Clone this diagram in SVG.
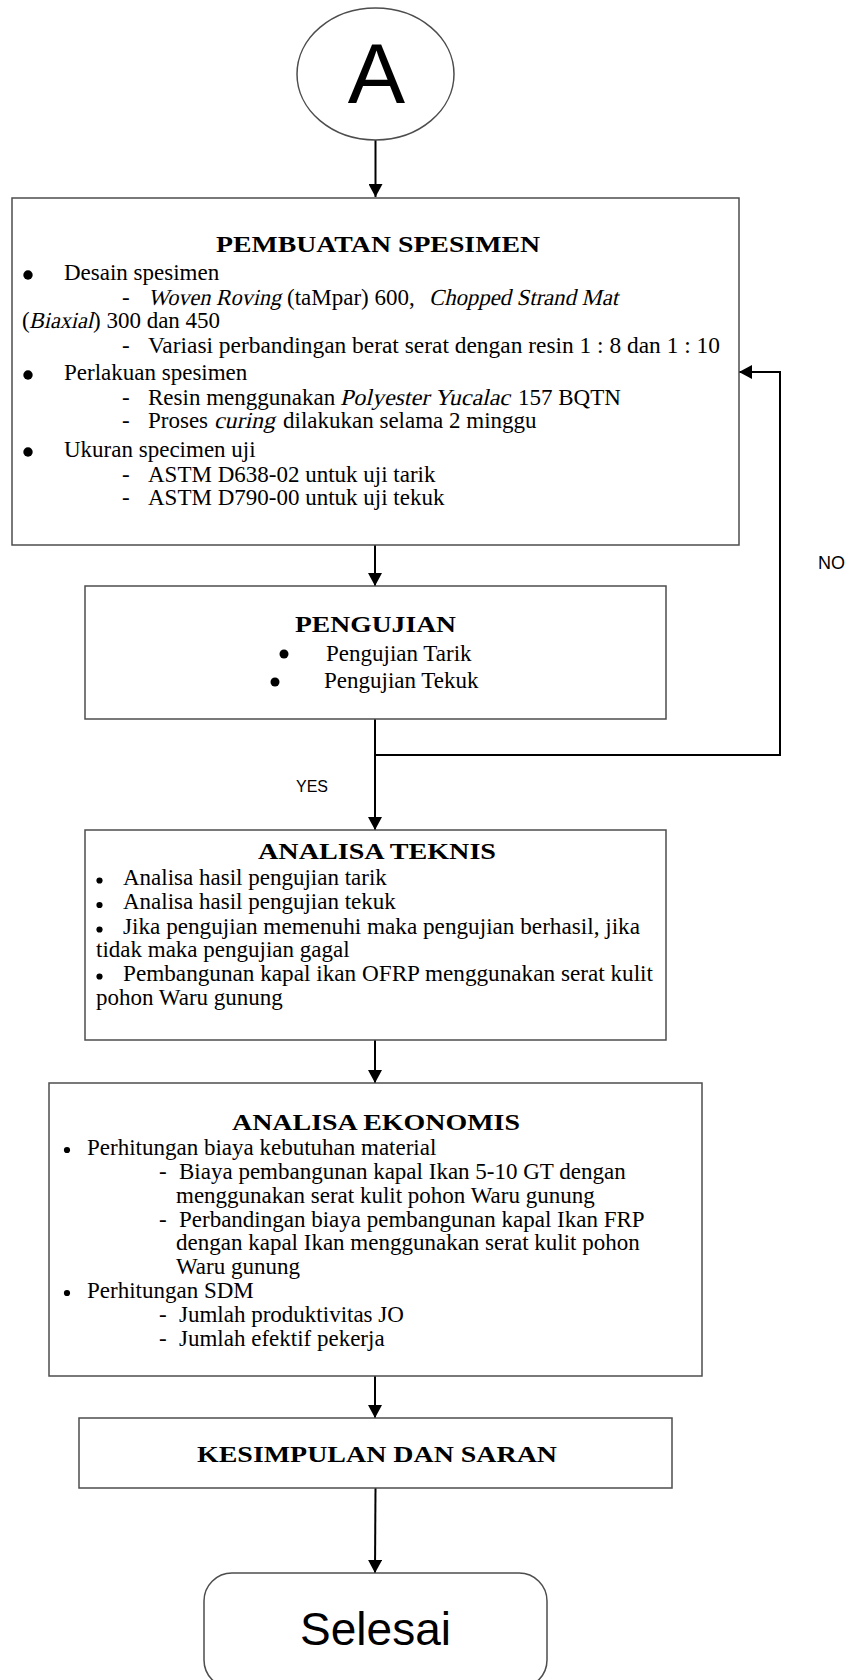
<svg xmlns="http://www.w3.org/2000/svg" width="850" height="1680" viewBox="0 0 850 1680">
<style>
.box{fill:#fff;stroke:#4d4d4d;stroke-width:1.5}
.conn{fill:none;stroke:#000;stroke-width:2}
.t{font-family:"Liberation Serif","Times New Roman",serif;font-size:23px;fill:#000}
.h{font-family:"Liberation Serif","Times New Roman",serif;font-size:24px;font-weight:bold;fill:#000}
.s{font-family:"Liberation Sans",Arial,sans-serif;fill:#000}
.dot{fill:#000}
</style>
<defs>
<marker id="ah" markerUnits="userSpaceOnUse" markerWidth="14" markerHeight="14" refX="13" refY="7" orient="auto">
<path d="M0,0 L13,7 L0,14 z" fill="#000"/>
</marker>
</defs>
<rect x="0" y="0" width="850" height="1680" fill="#fff"/>

<g id="connectors">
<line class="conn" x1="375.5" y1="140" x2="375.5" y2="197" marker-end="url(#ah)"/>
<line class="conn" x1="375" y1="545" x2="375" y2="586" marker-end="url(#ah)"/>
<line class="conn" x1="375" y1="719" x2="375" y2="830" marker-end="url(#ah)"/>
<polyline class="conn" points="375,755 780,755 780,372 739,372" marker-end="url(#ah)"/>
<line class="conn" x1="375" y1="1040" x2="375" y2="1083" marker-end="url(#ah)"/>
<line class="conn" x1="375" y1="1376" x2="375" y2="1418" marker-end="url(#ah)"/>
<line class="conn" x1="375.5" y1="1488" x2="375" y2="1573" marker-end="url(#ah)"/>
<text class="s" x="818" y="569" font-size="18">NO</text>
<text class="s" x="296" y="792" font-size="16">YES</text>
</g>

<g id="start-A">
<ellipse class="box" cx="375.5" cy="74" rx="78.5" ry="66" stroke="#000" stroke-width="1"/>
<text class="s" x="376.5" y="103" font-size="86" text-anchor="middle">A</text>
</g>

<g id="pembuatan-spesimen">
<rect class="box" x="12" y="198" width="727" height="347"/>
<text class="h" x="378" y="252" text-anchor="middle" textLength="324" lengthAdjust="spacingAndGlyphs">PEMBUATAN SPESIMEN</text>
<circle class="dot" cx="28" cy="275" r="4.7"/>
<text class="t" x="64" y="280">Desain spesimen</text>
<text class="t" x="122" y="305">-</text>
<text class="t" transform="translate(148,305) skewX(-13)" textLength="133" lengthAdjust="spacingAndGlyphs">Woven Roving</text>
<text class="t" x="287" y="305">(taMpar) 600,</text>
<text class="t" transform="translate(429,305) skewX(-13)" textLength="189" lengthAdjust="spacingAndGlyphs">Chopped Strand Mat</text>
<text class="t" x="22" y="328">(</text>
<text class="t" transform="translate(29,328) skewX(-13)" textLength="64" lengthAdjust="spacingAndGlyphs">Biaxial</text>
<text class="t" x="93" y="328">) 300 dan 450</text>
<text class="t" x="122" y="353">-</text>
<text class="t" x="148" y="353" textLength="572" lengthAdjust="spacingAndGlyphs">Variasi perbandingan berat serat dengan resin 1 : 8 dan 1 : 10</text>
<circle class="dot" cx="28" cy="375" r="4.7"/>
<text class="t" x="64" y="380">Perlakuan spesimen</text>
<text class="t" x="122" y="405">-</text>
<text class="t" x="148" y="405">Resin menggunakan</text>
<text class="t" transform="translate(340,405) skewX(-13)" textLength="170" lengthAdjust="spacingAndGlyphs">Polyester Yucalac</text>
<text class="t" x="518" y="405">157 BQTN</text>
<text class="t" x="122" y="428">-</text>
<text class="t" x="148" y="428">Proses</text>
<text class="t" transform="translate(214,428) skewX(-13)" textLength="61" lengthAdjust="spacingAndGlyphs">curing</text>
<text class="t" x="283" y="428">dilakukan selama 2 minggu</text>
<circle class="dot" cx="28" cy="452" r="4.7"/>
<text class="t" x="64" y="457">Ukuran specimen uji</text>
<text class="t" x="122" y="482">-</text>
<text class="t" x="148" y="482">ASTM D638-02 untuk uji tarik</text>
<text class="t" x="122" y="505">-</text>
<text class="t" x="148" y="505">ASTM D790-00 untuk uji tekuk</text>
</g>

<g id="pengujian">
<rect class="box" x="85" y="586" width="581" height="133"/>
<text class="h" x="375.5" y="632" text-anchor="middle" textLength="161" lengthAdjust="spacingAndGlyphs">PENGUJIAN</text>
<circle class="dot" cx="284" cy="654" r="4.5"/>
<text class="t" x="326" y="661">Pengujian Tarik</text>
<circle class="dot" cx="275" cy="682" r="4.5"/>
<text class="t" x="324" y="688">Pengujian Tekuk</text>
</g>

<g id="analisa-teknis">
<rect class="box" x="85" y="830" width="581" height="210"/>
<text class="h" x="377" y="859" text-anchor="middle" textLength="238" lengthAdjust="spacingAndGlyphs">ANALISA TEKNIS</text>
<circle class="dot" cx="99.5" cy="880.5" r="3.1"/>
<text class="t" x="123" y="885">Analisa hasil pengujian tarik</text>
<circle class="dot" cx="99.5" cy="905" r="3.1"/>
<text class="t" x="123" y="909">Analisa hasil pengujian tekuk</text>
<circle class="dot" cx="99.5" cy="929.5" r="3.1"/>
<text class="t" x="123" y="934" textLength="517" lengthAdjust="spacingAndGlyphs">Jika pengujian memenuhi maka pengujian berhasil, jika</text>
<text class="t" x="96" y="957">tidak maka pengujian gagal</text>
<circle class="dot" cx="99.5" cy="976.5" r="3.1"/>
<text class="t" x="123" y="981" textLength="530" lengthAdjust="spacingAndGlyphs">Pembangunan kapal ikan OFRP menggunakan serat kulit</text>
<text class="t" x="96" y="1005">pohon Waru gunung</text>
</g>

<g id="analisa-ekonomis">
<rect class="box" x="49" y="1083" width="653" height="293"/>
<text class="h" x="376" y="1130" text-anchor="middle" textLength="288" lengthAdjust="spacingAndGlyphs">ANALISA EKONOMIS</text>
<circle class="dot" cx="67" cy="1150" r="3.1"/>
<text class="t" x="87" y="1155">Perhitungan biaya kebutuhan material</text>
<text class="t" x="159" y="1179">-</text>
<text class="t" x="179" y="1179">Biaya pembangunan kapal Ikan 5-10 GT dengan</text>
<text class="t" x="176" y="1203">menggunakan serat kulit pohon Waru gunung</text>
<text class="t" x="159" y="1227">-</text>
<text class="t" x="179" y="1227">Perbandingan biaya pembangunan kapal Ikan FRP</text>
<text class="t" x="176" y="1250">dengan kapal Ikan menggunakan serat kulit pohon</text>
<text class="t" x="176" y="1274">Waru gunung</text>
<circle class="dot" cx="67" cy="1293" r="3.1"/>
<text class="t" x="87" y="1298">Perhitungan SDM</text>
<text class="t" x="159" y="1322">-</text>
<text class="t" x="179" y="1322">Jumlah produktivitas JO</text>
<text class="t" x="159" y="1346">-</text>
<text class="t" x="179" y="1346">Jumlah efektif pekerja</text>
</g>

<g id="kesimpulan-dan-saran">
<rect class="box" x="79" y="1418" width="593" height="70"/>
<text class="h" x="377" y="1462" text-anchor="middle" textLength="360" lengthAdjust="spacingAndGlyphs">KESIMPULAN DAN SARAN</text>
</g>

<g id="selesai">
<rect class="box" x="204" y="1573" width="343" height="115" rx="28" ry="28" stroke="#000" stroke-width="1"/>
<text class="s" x="375.5" y="1645" font-size="46" text-anchor="middle">Selesai</text>
</g>
</svg>
